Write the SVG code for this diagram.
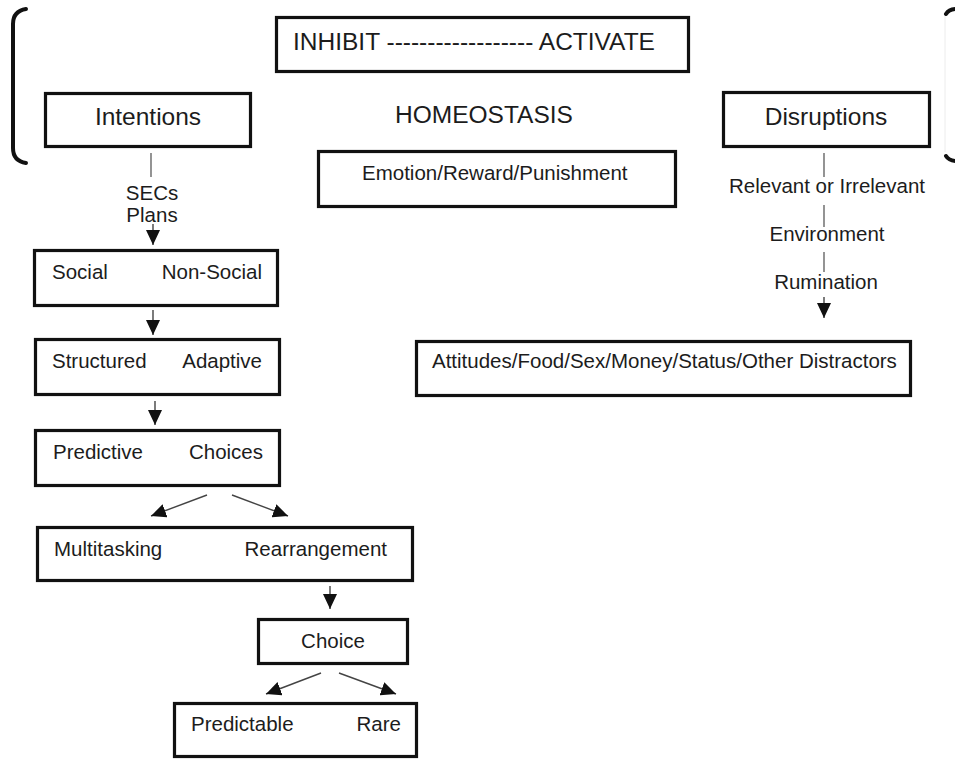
<svg xmlns="http://www.w3.org/2000/svg" width="955" height="759" viewBox="0 0 955 759">
  <style>
    .box { fill: #fff; stroke: #111; stroke-width: 3.2; }
    .big { font-family: "Liberation Sans", Arial, sans-serif; font-size: 24.5px; fill: #1c1c1c; }
    .lbl { font-family: "Liberation Sans", Arial, sans-serif; font-size: 20.5px; fill: #1c1c1c; }
    .mid { text-anchor: middle; }
    .end { text-anchor: end; }
    .link { stroke: #666; stroke-width: 1.4; fill: none; }
    .arrow { stroke: #444; stroke-width: 1.4; fill: none; marker-end: url(#head); }
    .brace { stroke: #111; stroke-width: 4; fill: none; stroke-linecap: round; }
  </style>
  <defs>
    <marker id="head" markerUnits="userSpaceOnUse" markerWidth="16" markerHeight="14" refX="15" refY="7" orient="auto">
      <path d="M0,0 L15,7 L0,14 Z" fill="#111"/>
    </marker>
  </defs>
  <rect width="955" height="759" fill="#fff"/>

  <!-- brackets framing the top row -->
  <g id="brackets">
    <path class="brace" d="M26,9 Q13,11 13,24 L13,148 Q13,161 26,163"/>
    <path class="brace" d="M946,14 Q949,9 957,9"/>
    <path class="brace" d="M946,156 Q949,161 957,161"/>
    <line x1="945" y1="16" x2="945" y2="152" stroke="#ececec" stroke-width="1"/>
  </g>

  <g id="inhibit-activate">
    <rect class="box" x="276.5" y="17.5" width="412" height="54"/>
    <text class="big" x="293" y="50">INHIBIT ------------------ ACTIVATE</text>
  </g>

  <g id="intentions">
    <rect class="box" x="45.5" y="93.5" width="205" height="53"/>
    <text class="big mid" x="148" y="125">Intentions</text>
  </g>

  <g id="homeostasis">
    <text class="big" x="395" y="123">HOMEOSTASIS</text>
  </g>

  <g id="disruptions">
    <rect class="box" x="723.5" y="92.5" width="206" height="54"/>
    <text class="big mid" x="826" y="125">Disruptions</text>
  </g>

  <g id="emotion">
    <rect class="box" x="318.5" y="151.5" width="357" height="55"/>
    <text class="lbl" x="362" y="180">Emotion/Reward/Punishment</text>
  </g>

  <g id="social">
    <rect class="box" x="34.5" y="250.5" width="243" height="55"/>
    <text class="lbl" x="52" y="279">Social</text>
    <text class="lbl end" x="262" y="279">Non-Social</text>
  </g>

  <g id="structured">
    <rect class="box" x="35.5" y="339.5" width="244" height="55"/>
    <text class="lbl" x="52" y="368">Structured</text>
    <text class="lbl end" x="262" y="368">Adaptive</text>
  </g>

  <g id="predictive">
    <rect class="box" x="35.5" y="430.5" width="244" height="55"/>
    <text class="lbl" x="53" y="459">Predictive</text>
    <text class="lbl end" x="263" y="459">Choices</text>
  </g>

  <g id="multitasking">
    <rect class="box" x="37.5" y="527.5" width="375" height="53"/>
    <text class="lbl" x="54" y="556">Multitasking</text>
    <text class="lbl end" x="387" y="556">Rearrangement</text>
  </g>

  <g id="choice">
    <rect class="box" x="258.5" y="619.5" width="149" height="44"/>
    <text class="lbl mid" x="333" y="648">Choice</text>
  </g>

  <g id="predictable">
    <rect class="box" x="174.5" y="703.5" width="242" height="53"/>
    <text class="lbl" x="191" y="731">Predictable</text>
    <text class="lbl end" x="401" y="731">Rare</text>
  </g>

  <g id="distractors">
    <rect class="box" x="416.5" y="341.5" width="494" height="54"/>
    <text class="lbl" x="432" y="368">Attitudes/Food/Sex/Money/Status/Other Distractors</text>
  </g>

  <!-- connectors and their inline labels -->
  <g id="connectors">
    <line class="link" x1="151" y1="153" x2="151" y2="177"/>
    <text class="lbl mid" x="152" y="200">SECs</text>
    <text class="lbl mid" x="152" y="222">Plans</text>
    <line class="arrow" x1="153" y1="224" x2="153" y2="245"/>

    <line class="arrow" x1="153" y1="310" x2="153" y2="335"/>
    <line class="arrow" x1="155" y1="401" x2="155" y2="425"/>

    <line class="arrow" x1="207" y1="495" x2="151" y2="516"/>
    <line class="arrow" x1="232" y1="495" x2="288" y2="516"/>

    <line class="arrow" x1="330" y1="586" x2="330" y2="609"/>

    <line class="arrow" x1="321" y1="673" x2="266" y2="694"/>
    <line class="arrow" x1="339" y1="673" x2="396" y2="694"/>

    <line class="link" x1="824" y1="153" x2="824" y2="177"/>
    <text class="lbl mid" x="827" y="193">Relevant or Irrelevant</text>
    <line class="link" x1="824" y1="205" x2="824" y2="227"/>
    <text class="lbl mid" x="827" y="241">Environment</text>
    <line class="link" x1="824" y1="252" x2="824" y2="272"/>
    <text class="lbl mid" x="826" y="289">Rumination</text>
    <line class="arrow" x1="824" y1="297" x2="824" y2="318"/>
  </g>
</svg>
